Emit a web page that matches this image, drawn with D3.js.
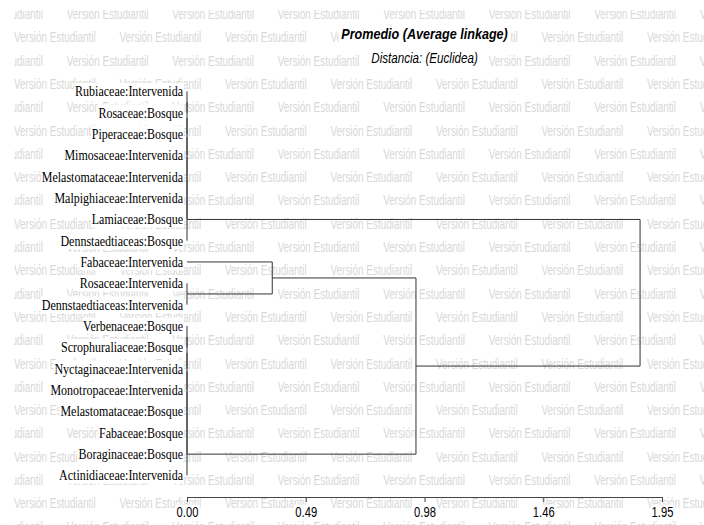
<!DOCTYPE html>
<html>
<head>
<meta charset="utf-8">
<script src="https://cdn.jsdelivr.net/npm/d3@7"></script>
<style>
  body { margin: 0; background: #fff; }
</style>
</head>
<body>
<script>
const width = 704, height = 525;

// leaf order, top to bottom
const leaves = [
  "Rubiaceae:Intervenida", "Rosaceae:Bosque", "Piperaceae:Bosque",
  "Mimosaceae:Intervenida", "Melastomataceae:Intervenida", "Malpighiaceae:Intervenida",
  "Lamiaceae:Bosque", "Dennstaedtiaceas:Bosque", "Fabaceae:Intervenida",
  "Rosaceae:Intervenida", "Dennstaedtiaceas:Intervenida", "Verbenaceae:Bosque",
  "Scrophuraliaceae:Bosque", "Nyctaginaceae:Intervenida", "Monotropaceae:Intervenida",
  "Melastomataceae:Bosque", "Fabaceae:Bosque", "Boraginaceae:Bosque",
  "Actinidiaceae:Intervenida"
];

// hclust style: negative = leaf (1-based), positive = earlier merge (1-based)
const merges = [
  [-1, -2], [1, -3], [2, -4], [3, -5], [4, -6], [5, -7], [6, -8],
  [-12, -13], [8, -14], [9, -15], [10, -16], [11, -17], [12, -18], [13, -19],
  [-10, -11], [-9, 15], [16, 14], [7, 17]
];
const mergeHeights = [0, 0, 0, 0, 0, 0, 0, 0, 0, 0, 0, 0, 0, 0, 0, 0.35, 0.94, 1.86];

const tickValues = [0, 0.4875, 0.975, 1.4625, 1.95];
const tickLabels = ["0.00", "0.49", "0.98", "1.46", "1.95"];

const sans = "'Liberation Sans', Arial, sans-serif";
const serif = "'Liberation Serif', 'Times New Roman', serif";

const svg = d3.select("body").append("svg")
    .attr("width", width)
    .attr("height", height);

svg.append("rect")
    .attr("width", width)
    .attr("height", height)
    .attr("fill", "white");

// watermark
svg.append("clipPath").attr("id", "wm")
  .append("rect").attr("x", 14).attr("y", 10).attr("width", width - 14).attr("height", height - 10);

const wm = svg.append("g").attr("clip-path", "url(#wm)");
for (let j = 0; j < 24; j++) {
    const by = 19 + 23.3 * j;
    const x0 = j % 2 === 0 ? 14 - 52.75 : 14;
    for (let k = 0; k < 8; k++) {
        wm.append("text")
            .attr("transform", `translate(${x0 + 105.5 * k},${by}) scale(0.71,1)`)
            .attr("font-family", sans)
            .attr("font-size", 14)
            .attr("fill", "#d8d8d8")
            .text("Versión Estudiantil");
    }
}

// build tree
const nodes = [];
const ref = i => i < 0 ? { name: leaves[-i - 1], h: 0 } : nodes[i - 1];
merges.forEach((m, k) => {
    nodes[k] = { h: mergeHeights[k], children: [ref(m[0]), ref(m[1])] };
});
const root = d3.hierarchy(nodes[nodes.length - 1]);

const x = d3.scaleLinear().domain([0, 1.95]).range([187, 662]);
const y = d3.scalePoint().domain(leaves).range([91.3, 475.3]);

root.eachAfter(n => {
    n.px = x(n.data.h);
    n.py = n.children ? d3.mean(n.children, c => c.py) : y(n.data.name);
});

// leaf labels with white boxes
const lab = svg.append("g").selectAll("g")
    .data(root.leaves())
    .join("g")
      .attr("transform", d => `translate(183,${d.py + 5}) scale(0.8,1)`);

lab.append("text")
    .attr("text-anchor", "end")
    .attr("font-family", serif)
    .attr("font-size", 15)
    .attr("fill", "#000")
    .text(d => d.data.name);

lab.each(function() {
    const b = d3.select(this).select("text").node().getBBox();
    d3.select(this).insert("rect", "text")
        .attr("x", b.x - 1).attr("y", b.y)
        .attr("width", b.width + 2).attr("height", b.height)
        .attr("fill", "white");
});

// dendrogram
svg.append("g")
    .attr("fill", "none")
    .attr("stroke", "#333")
    .attr("stroke-width", 1)
  .selectAll("path")
  .data(root.links())
  .join("path")
    .attr("d", l => `M${l.target.px},${l.target.py}H${l.source.px}V${l.source.py}`);

// axis
const axis = d3.axisBottom(x)
    .tickValues(tickValues)
    .tickFormat((d, i) => tickLabels[i])
    .tickSize(5)
    .tickSizeOuter(0)
    .tickPadding(5);

const gA = svg.append("g")
    .attr("transform", "translate(0,497)")
    .call(axis);
gA.select(".domain").attr("stroke", "#444");
gA.selectAll(".tick line").attr("stroke", "#444");
gA.selectAll(".tick text")
    .attr("font-family", sans)
    .attr("font-size", 14)
    .attr("fill", "#000")
    .attr("transform", "scale(0.8,1)");
gA.selectAll(".tick").each(function() {
    const t = d3.select(this).select("text");
    const b = t.node().getBBox();
    d3.select(this).insert("rect", "text")
        .attr("x", b.x * 0.8 - 1).attr("y", b.y)
        .attr("width", b.width * 0.8 + 2).attr("height", b.height)
        .attr("fill", "white");
});

// titles
function title(txt, ty, size, sx, weight) {
    const g = svg.append("g").attr("transform", `translate(424.5,${ty}) scale(${sx},1)`);
    const t = g.append("text")
        .attr("text-anchor", "middle")
        .attr("font-family", sans)
        .attr("font-size", size)
        .attr("font-style", "italic")
        .attr("font-weight", weight)
        .attr("fill", "#000")
        .text(txt);
    const b = t.node().getBBox();
    g.insert("rect", "text")
        .attr("x", b.x - 3).attr("y", b.y)
        .attr("width", b.width + 6).attr("height", b.height)
        .attr("fill", "white");
}
title("Promedio (Average linkage)", 39, 15, 0.84, "bold");
title("Distancia: (Euclidea)", 63, 14, 0.83, "normal");
</script>
</body>
</html>
